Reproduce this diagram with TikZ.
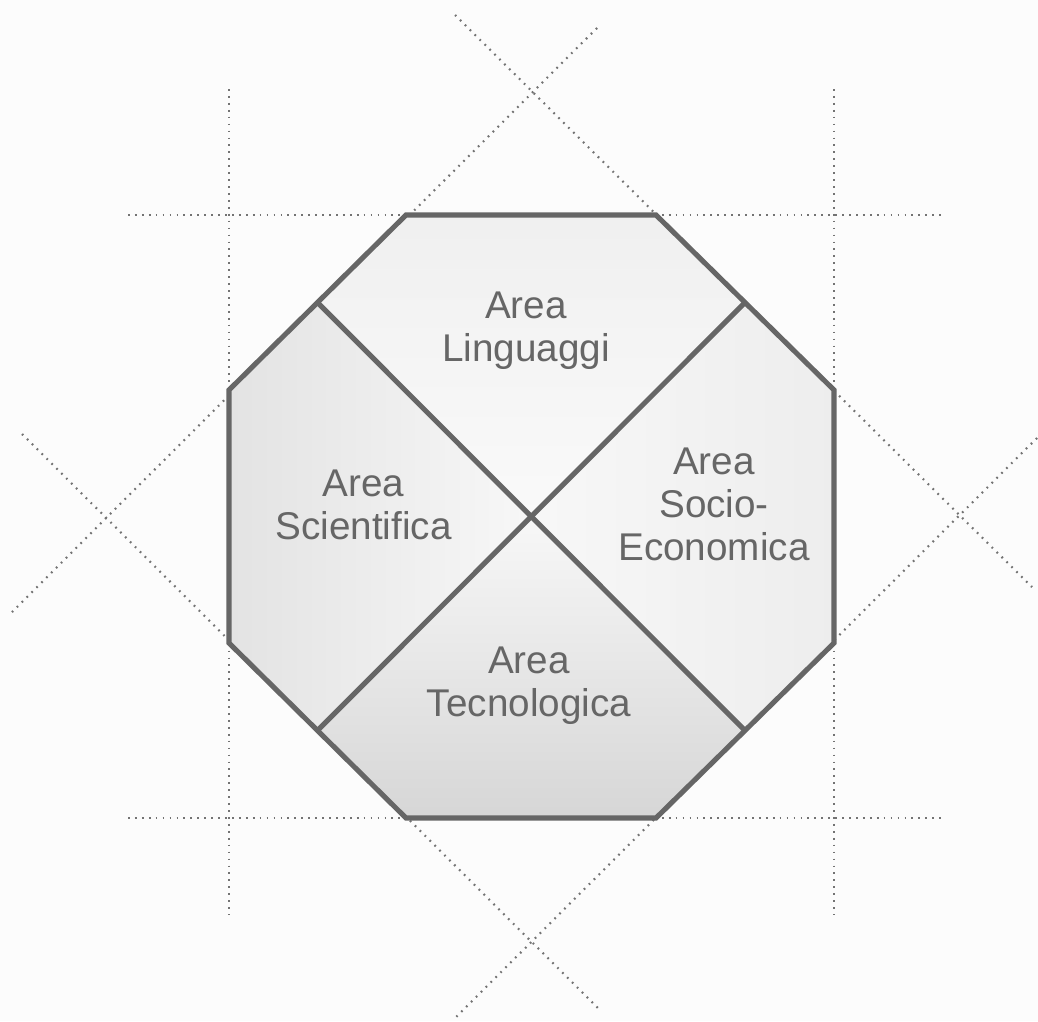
\documentclass[tikz,border=0pt]{standalone}
\usepackage{fontspec}
\setmainfont{Liberation Sans}
\begin{document}
\begin{tikzpicture}[x=0.75pt,y=-0.75pt,
  guide/.style={draw=black!55,line width=1.6pt,dash pattern=on 1.3pt off 3.9pt},
  region/.style={draw=none},
  rim/.style={draw=black!60,line width=3.8pt,line join=miter},
  lbl/.style={inner sep=0pt,align=center,text=black!60,font=\fontsize{29}{32.25}\selectfont}]
\fill[black!1] (0,0) rectangle (1038,1021);
\useasboundingbox (0,0) rectangle (1038,1021);
% octagon corners
\coordinate (A) at (406,215);
\coordinate (B) at (656,215);
\coordinate (C) at (834,390);
\coordinate (D) at (834,643);
\coordinate (E) at (656,818);
\coordinate (F) at (406,818);
\coordinate (G) at (229,643);
\coordinate (H) at (229,390);
\coordinate (O) at (531,516.5);
\coordinate (mHA) at (317.5,302.5);
\coordinate (mBC) at (745,302.5);
\coordinate (mDE) at (745,730.5);
\coordinate (mFG) at (317.5,730.5);
% guide line ends
\coordinate (h1a) at (128,215); \coordinate (h1b) at (943,215);
\coordinate (h2a) at (128,818); \coordinate (h2b) at (943,818);
\coordinate (v1a) at (229,89);  \coordinate (v1b) at (229,915);
\coordinate (v2a) at (834,89);  \coordinate (v2b) at (834,915);
\coordinate (d1a) at (455,15);  \coordinate (d1b) at (1032,587);
\coordinate (d2a) at (597,28);  \coordinate (d2b) at (12,612);
\coordinate (d3a) at (22,434);  \coordinate (d3b) at (598,1008);
\coordinate (d4a) at (1037,438); \coordinate (d4b) at (453,1020);
% guides
\draw[guide] (h1a) -- (h1b);
\draw[guide] (h2a) -- (h2b);
\draw[guide] (v1a) -- (v1b);
\draw[guide] (v2a) -- (v2b);
\draw[guide] (d1a) -- (d1b);
\draw[guide] (d2a) -- (d2b);
\draw[guide] (d3a) -- (d3b);
\draw[guide] (d4a) -- (d4b);
% regions
\shade[region,top color=black!6,bottom color=black!2] (A) -- (B) -- (mBC) -- (O) -- (mHA) -- cycle;
\shade[region,left color=black!3,right color=black!7] (mBC) -- (C) -- (D) -- (mDE) -- (O) -- cycle;
\shade[region,top color=black!3,bottom color=black!16] (O) -- (mDE) -- (E) -- (F) -- (mFG) -- cycle;
\shade[region,left color=black!11,right color=black!3] (mHA) -- (O) -- (mFG) -- (G) -- (H) -- cycle;
% outline and dividers
\draw[rim] (A) -- (B) -- (C) -- (D) -- (E) -- (F) -- (G) -- (H) -- cycle;
\draw[rim] (mHA) -- (mDE);
\draw[rim] (mBC) -- (mFG);
% labels
\node[lbl] (ling) at (526,331) {Area\\Linguaggi};
\node[lbl] (scie) at (363.5,504.5) {Area\\Scientifica};
\node[lbl] (soci) at (714,504) {Area\\Socio-\\Economica};
\node[lbl] (tecn) at (529,685.5) {Area\\Tecnologica};
\end{tikzpicture}
\end{document}
